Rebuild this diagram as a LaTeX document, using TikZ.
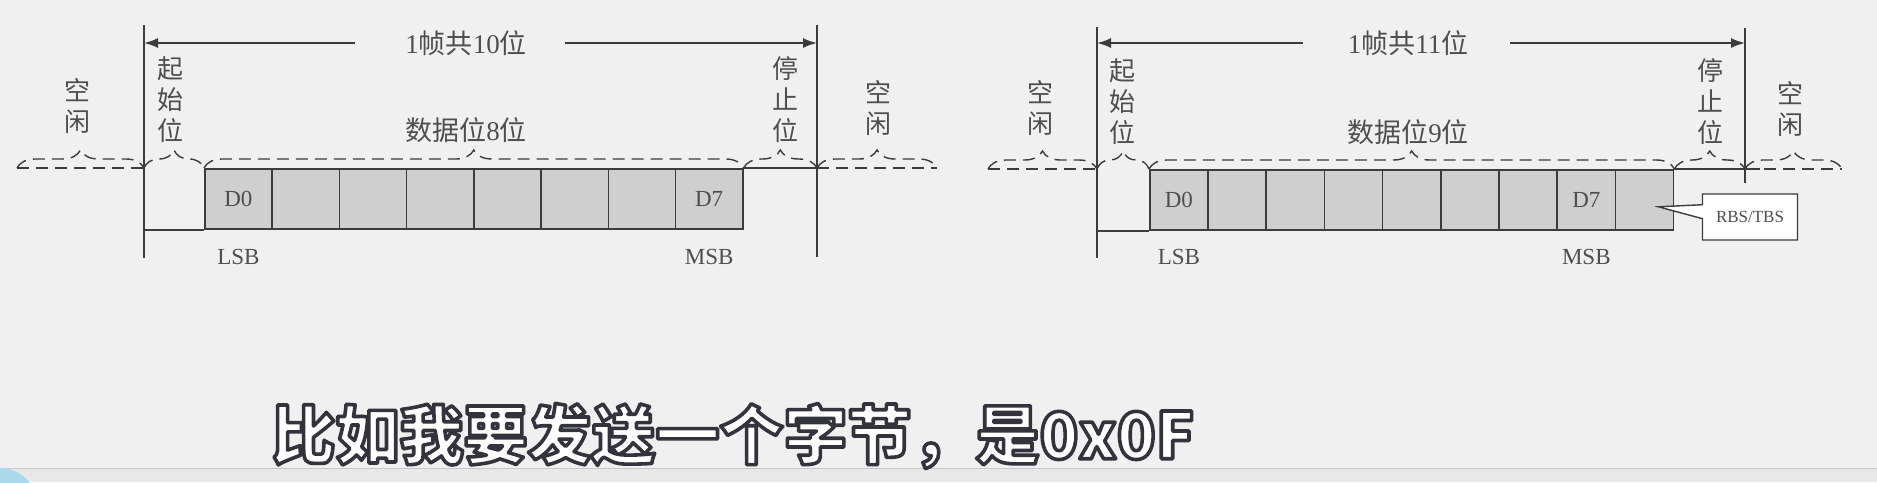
\documentclass[tikz,border=0pt]{standalone}
\usepackage{fontspec}
\setmainfont{Liberation Serif}
\newfontfamily\cjk{Noto Sans CJK SC}
\usetikzlibrary{decorations.pathreplacing}
\usetikzlibrary{shapes.callouts}
\usetikzlibrary{arrows.meta}
\usepackage{xcolor}
\definecolor{bgcol}{HTML}{F0F0F0}
\definecolor{linecol}{HTML}{3C3C3C}
\definecolor{txtcol}{HTML}{4E4E4E}
\definecolor{boxcol}{HTML}{CFCFCF}
\definecolor{bluecol}{HTML}{A9D9EA}
% 描边字:白色填充 + 深色轮廓
\newcommand{\strokedtext}[1]{\color{white}\special{pdf:literal direct 2 Tr 3.6 w 0.2 0.2 0.24 RG 1 j}#1\special{pdf:literal direct 0 Tr}}

\begin{document}
\begin{tikzpicture}[x=1pt, y=-1pt]
        % ================= 样式定义 =================
        \tikzset{
            % 数据位方框:灰底黑边
            bitbox/.style={draw=linecol, line width=1.6pt, fill=boxcol, minimum height=60pt, inner sep=0pt, anchor=north west},
            % 竖排汉字标签
            vlabel/.style={text=txtcol, align=center, font=\cjk\fontsize{26}{31}\selectfont, inner sep=0pt},
            % 横排文字
            lbl/.style={text=txtcol, font=\fontsize{27}{30}\selectfont, inner sep=0pt},
            % D0 LSB 等
            bitname/.style={text=txtcol, font=\fontsize{23}{26}\selectfont, inner sep=0pt},
            % 虚线大括号
            dbrace/.style={draw=linecol, line width=1.4pt, dash pattern=on 12pt off 7pt, decorate, decoration={brace, amplitude=18pt}},
            % 空闲电平虚线
            idle/.style={draw=linecol, line width=1.4pt, dash pattern=on 12pt off 7pt},
            signal/.style={draw=linecol, line width=1.8pt},
            frame/.style={draw=linecol, line width=2.2pt},
            arr/.style={draw=linecol, line width=1.8pt, -{Latex[length=14pt, width=10pt]}},
            % RBS/TBS 标注框
            rbsbox/.style={rectangle callout, draw=linecol, line width=1.4pt, fill=white, minimum width=95pt, minimum height=46pt, inner sep=0pt, text=txtcol, font=\fontsize{17}{20}\selectfont, callout pointer width=14pt},
            % 视频字幕
            subtitle/.style={font=\cjk\bfseries\fontsize{64}{70}\selectfont, inner sep=0pt}
        }

        % ================= 背景 =================
        \fill[bgcol] (0,0) rectangle (1877,482);
        \useasboundingbox (0,0) rectangle (1877,482);
        \fill[black!9] (0,468) rectangle (1877,482);
        \draw[black!22, line width=1pt] (0,468) -- (1877,468);
        \fill[bluecol] (0,505) circle (37pt);

        % ================= 左图:1帧共10位 =================
        \coordinate (la) at (144,25);
        \coordinate (lb) at (144,258);
        \coordinate (ra) at (817,25);
        \coordinate (rb) at (817,257);
        \draw[frame] (la) -- (lb);
        \draw[frame] (ra) -- (rb);

        % 8个数据位
        \foreach \i in {1,...,8} {
            \node[bitbox, minimum width=67.25pt] (a\i) at ({204+(\i-1)*67.25},168) {};
        }
        \node[bitname] (ad0) at (a1) {D0};
        \node[bitname] (ad7) at (a8) {D7};
        \node[bitname] (alsb) at ([yshift=-27pt]a1.south) {LSB};
        \node[bitname] (amsb) at ([yshift=-27pt]a8.south) {MSB};

        % 电平线
        \draw[idle] (17,168) -- (144,168);
        \draw[signal] (a1.south west -| lb) -- (a1.south west);
        \draw[signal] (a8.north east) -- (823,168);
        \draw[idle] (817,168) -- (937,168);

        % 大括号
        \draw[dbrace] (17,168) -- (144,168);
        \draw[dbrace] (144,168) -- (a1.north west);
        \draw[dbrace] (a1.north west) -- (a8.north east);
        \draw[dbrace] (a8.north east) -- (817,168);
        \draw[dbrace] (817,168) -- (937,168);

        % 文字
        \node[lbl] (t1) at (466,43) {1{\cjk 帧共}10{\cjk 位}};
        \draw[arr] ([xshift=-50pt]t1.west) -- (t1.west -| la);
        \draw[arr] ([xshift=38pt]t1.east) -- (t1.east -| ra);
        \node[vlabel] (kx1) at (77,106) {空\\闲};
        \node[vlabel] (qs1) at (170,100) {起\\始\\位};
        \node[lbl] (sj1) at (466,130) {{\cjk 数据位}8{\cjk 位}};
        \node[vlabel] (tz1) at (785,100) {停\\止\\位};
        \node[vlabel] (kx2) at (878,108) {空\\闲};

        % ================= 右图:1帧共11位 =================
        \coordinate (lc) at (1097,27);
        \coordinate (ld) at (1097,258);
        \coordinate (rc) at (1745,28);
        \coordinate (rd) at (1745,183);
        \draw[frame] (lc) -- (ld);
        \draw[frame] (rc) -- (rd);

        % 9个数据位
        \foreach \i in {1,...,9} {
            \node[bitbox, minimum width=58.2pt] (b\i) at ({1149+(\i-1)*58.2},169) {};
        }
        \node[bitname] (bd0) at (b1) {D0};
        \node[bitname] (bd7) at (b8) {D7};
        \node[bitname] (blsb) at ([yshift=-26pt]b1.south) {LSB};
        \node[bitname] (bmsb) at ([yshift=-26pt]b8.south) {MSB};

        % 电平线
        \draw[idle] (988,169) -- (1097,169);
        \draw[signal] (b1.south west -| ld) -- (b1.south west);
        \draw[signal] (b9.north east) -- (1760,169);
        \draw[idle] (1745,169) -- (1842,169);

        % 大括号
        \draw[dbrace] (988,169) -- (1097,169);
        \draw[dbrace] (1097,169) -- (b1.north west);
        \draw[dbrace] (b1.north west) -- (b9.north east);
        \draw[dbrace] (b9.north east) -- (1745,169);
        \draw[dbrace] (1745,169) -- (1842,169);

        % 文字
        \node[lbl] (t2) at (1408,43) {1{\cjk 帧共}11{\cjk 位}};
        \draw[arr] ([xshift=-45pt]t2.west) -- (t2.west -| lc);
        \draw[arr] ([xshift=42pt]t2.east) -- (t2.east -| rc);
        \node[vlabel] (kx3) at (1040,108) {空\\闲};
        \node[vlabel] (qs2) at (1122,102) {起\\始\\位};
        \node[lbl] (sj2) at (1408,132) {{\cjk 数据位}9{\cjk 位}};
        \node[vlabel] (tz2) at (1710,102) {停\\止\\位};
        \node[vlabel] (kx4) at (1790,109) {空\\闲};

        % 第9位的标注
        \node[rbsbox, callout absolute pointer={([xshift=14pt,yshift=-7pt]b9.center)}] (rbs) at (1750,217) {RBS/TBS};

        % ================= 字幕 =================
        \node[subtitle] (cap) at (733,436) {\strokedtext{比如我要发送一个字节，是0x0F}};

    \end{tikzpicture}
\end{document}
